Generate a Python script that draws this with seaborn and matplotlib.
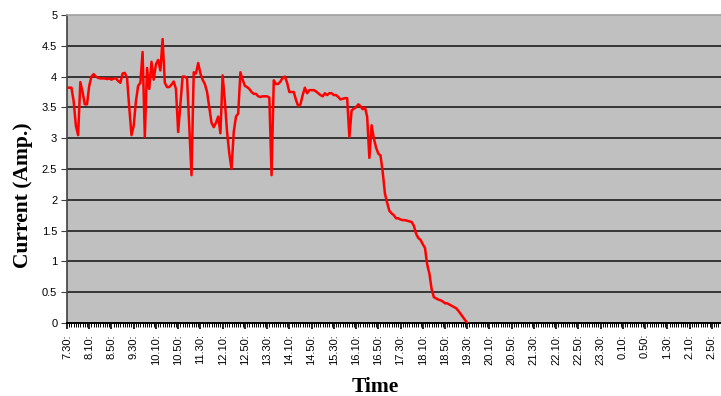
import numpy as np
import pandas as pd
import matplotlib
matplotlib.use("Agg")
import matplotlib.pyplot as plt
import seaborn as sns

# Current readings, one per 4-minute category starting at 7:30
current = [
    3.82, 3.82, 3.82, 3.60, 3.20, 3.05, 3.91, 3.75, 3.55, 3.55,
    3.85, 4.00, 4.04, 4.00, 3.98, 3.97, 3.97, 3.97, 3.96, 3.97,
    3.95, 3.97, 3.97, 3.93, 3.90, 4.05, 4.06, 3.98, 3.50, 3.05,
    3.20, 3.60, 3.85, 3.90, 4.40, 3.02, 4.14, 3.80, 4.24, 3.95,
    4.20, 4.27, 4.10, 4.61, 3.90, 3.83, 3.83, 3.87, 3.92, 3.80,
    3.10, 3.55, 4.00, 4.00, 3.97, 3.20, 2.40, 4.07, 4.05, 4.22,
    4.05, 3.95, 3.88, 3.75, 3.50, 3.25, 3.18, 3.25, 3.35, 3.08,
    4.02, 3.60, 3.10, 2.75, 2.50, 3.10, 3.35, 3.40, 4.07, 3.95,
    3.85, 3.83, 3.80, 3.75, 3.72, 3.72, 3.68, 3.67, 3.68, 3.68,
    3.68, 3.66, 2.40, 3.94, 3.88, 3.88, 3.92, 3.98, 4.00, 3.90,
    3.75, 3.75, 3.75, 3.62, 3.52, 3.55, 3.70, 3.82, 3.73, 3.78,
    3.78, 3.78, 3.76, 3.73, 3.70, 3.68, 3.73, 3.70, 3.73, 3.73,
    3.70, 3.70, 3.67, 3.63, 3.64, 3.65, 3.65, 3.02, 3.45, 3.48,
    3.50, 3.55, 3.52, 3.47, 3.50, 3.35, 2.68, 3.21, 3.00, 2.85,
    2.75, 2.72, 2.45, 2.10, 1.95, 1.82, 1.78, 1.75, 1.70, 1.70,
    1.68, 1.67, 1.67, 1.66, 1.65, 1.64, 1.58, 1.45, 1.38, 1.35,
    1.28, 1.22, 0.95, 0.80, 0.55, 0.42, 0.40, 0.38, 0.37, 0.35,
    0.32, 0.32, 0.30, 0.28, 0.26, 0.24, 0.20, 0.15, 0.10, 0.05,
    0.00,
]

# Category axis labels (every 10th category)
time_labels = [
    "7.30:", "8.10:", "8.50:", "9.30:", "10.10:", "10.50:", "11.30:",
    "12.10:", "12.50:", "13.30:", "14.10:", "14.50:", "15.30:", "16.10:",
    "16.50:", "17.30:", "18.10:", "18.50:", "19.30:", "20.10:", "20.50:",
    "21.30:", "22.10:", "22.50:", "23.30:", "0.10:", "0.50:", "1.30:",
    "2.10:", "2.50:",
]
label_step = 10
y_ticks = [0, 0.5, 1, 1.5, 2, 2.5, 3, 3.5, 4, 4.5, 5]
y_tick_labels = ["0", "0.5", "1", "1.5", "2", "2.5", "3", "3.5", "4", "4.5", "5"]

df = pd.DataFrame({"pos": np.arange(len(current)), "current": current})

W, H = 721, 396
fig = plt.figure(figsize=(W / 100, H / 100), dpi=100)
left_px, right_px, top_px, bottom_px = 67, 721, 15, 323
ax = fig.add_axes([left_px / W, 1 - bottom_px / H,
                   (right_px - left_px) / W, (bottom_px - top_px) / H])
ax.set_facecolor("#C0C0C0")

sns.lineplot(data=df, x="pos", y="current", ax=ax, color="#FF0000",
             linewidth=1.8, zorder=3)

n_cat = len(time_labels) * label_step
ax.set_xticks(np.arange(0, n_cat, label_step))
ax.set_xticklabels(time_labels, rotation=90, fontsize=8,
                   family="Liberation Sans")
ax.set_xticks(np.arange(0, n_cat), minor=True)
ax.tick_params(axis="x", which="major", length=4, width=1.2, color="black", pad=4)
ax.tick_params(axis="x", which="minor", length=3, width=0.7, color="black")

px_per_cat = 2.22
ax.set_xlim(0, (right_px - left_px - 1) / px_per_cat)

ax.set_yticks(y_ticks)
ax.set_yticklabels(y_tick_labels, fontsize=8, family="Liberation Sans")
ax.tick_params(axis="y", length=4, width=0.8, color="#404040", pad=3)
ax.set_ylim(0, 5)

for y in y_ticks[1:-1]:
    ax.axhline(y, color="#1E1E1E", linewidth=1.2, zorder=1)

ax.spines["right"].set_visible(False)
ax.spines["top"].set_color("#A0A0A0")
ax.spines["top"].set_linewidth(1.2)
ax.spines["left"].set_color("#404040")
ax.spines["left"].set_linewidth(1.2)
ax.spines["bottom"].set_color("black")
ax.spines["bottom"].set_linewidth(1.4)

ax.set_xlabel("Time", fontsize=15.5, fontweight="bold",
              family="Liberation Serif", va="center")
ax.set_ylabel("Current (Amp.)", fontsize=15.5, fontweight="bold",
              family="Liberation Serif", va="center")
ax.xaxis.set_label_coords((375 - left_px) / (right_px - left_px),
                          -(387 - bottom_px) / (bottom_px - top_px))
ax.yaxis.set_label_coords(-(left_px - 23) / (right_px - left_px),
                          (bottom_px - 195) / (bottom_px - top_px))

fig.savefig("out.png", dpi=100, facecolor="white")
